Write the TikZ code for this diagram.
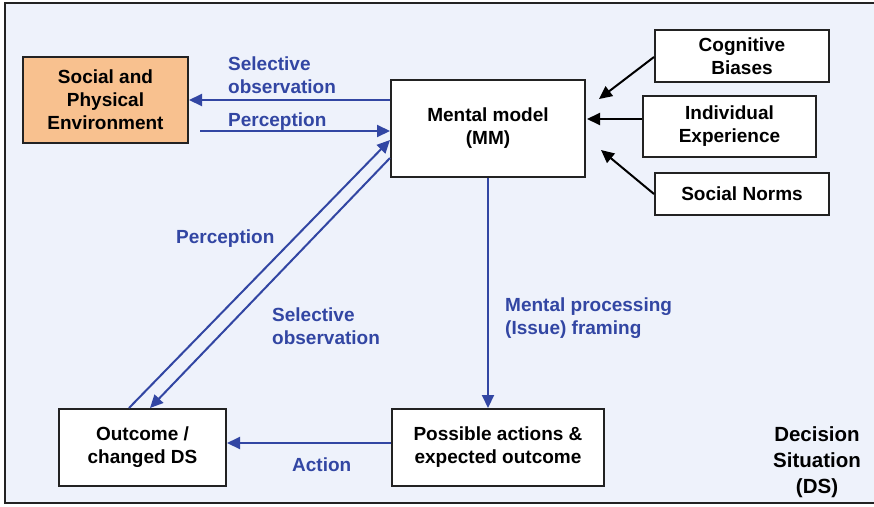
\documentclass[tikz,border=0pt]{standalone}
\usepackage{fontspec}
\setmainfont{Liberation Sans}
\usetikzlibrary{arrows.meta}
\definecolor{panel}{HTML}{EEF2FB}
\definecolor{flow}{HTML}{3246A3}
\definecolor{envfill}{HTML}{F8C18F}
\definecolor{edge}{HTML}{222222}
\begin{document}
\begin{tikzpicture}[x=1pt,y=-1pt,
  box/.style={draw=edge,line width=2pt,fill=white,align=center,inner sep=0pt,
    font=\fontsize{19}{23}\selectfont\bfseries,text=black},
  lbl/.style={align=left,inner sep=0pt,text=flow,
    font=\fontsize{19}{23}\selectfont\bfseries},
  flowarrow/.style={draw=flow,line width=2pt,-{Triangle[length=13pt,width=12pt]}},
  inarrow/.style={draw=black,line width=2pt,-{Triangle[length=13pt,width=12pt]}}]
\useasboundingbox (0,0) rectangle (874,506);
\fill[white] (0,0) rectangle (874,506);
% outer panel of the decision situation
\draw[edge,line width=1.6pt,fill=panel] (5,3) rectangle (890,503);

% boxes
\node[box,fill=envfill,minimum width=165pt,minimum height=86pt] (env) at (105.5,100)
  {Social and\\Physical\\Environment};
\node[box,minimum width=194pt,minimum height=97pt] (mm) at (488,128.5)
  {Mental model\\(MM)};
\node[box,minimum width=174pt,minimum height=52pt] (cog) at (742,56)
  {Cognitive\\Biases};
\node[box,minimum width=173pt,minimum height=61pt] (ind) at (729.5,126.5)
  {Individual\\Experience};
\node[box,minimum width=174pt,minimum height=42pt] (norms) at (742,194)
  {Social Norms};
\node[box,minimum width=212pt,minimum height=77pt] (poss) at (498,447.5)
  {Possible actions \&\\expected outcome};
\node[box,minimum width=167pt,minimum height=77pt] (out) at (142.5,447.5)
  {Outcome /\\changed DS};

% caption of the panel
\node[align=center,inner sep=0pt,font=\fontsize{20.5}{26}\selectfont\bfseries] (ds) at (817,462)
  {Decision\\Situation\\(DS)};

% flows between environment and mental model
\coordinate (pstart) at ([xshift=11pt,yshift=-31pt]env.east);
\draw[flowarrow] ([yshift=28.5pt]mm.west) -- (env.east);
\draw[flowarrow] (pstart) -- ([yshift=-2.5pt]mm.west);
\node[lbl,anchor=west] (l1) at (228,75.5) {Selective\\observation};
\node[lbl,anchor=west] (l2) at (228,121.5) {Perception};

% flows between outcome and mental model
\draw[flowarrow] ([xshift=-13.5pt]out.north) -- ([yshift=-11.5pt]mm.west);
\draw[flowarrow] ([yshift=-29.5pt]mm.west) -- ([xshift=7.5pt]out.north);
\node[lbl,anchor=west] (l3) at (176,238.5) {Perception};
\node[lbl,anchor=west] (l4) at (272,326) {Selective\\observation};

% mental processing and action
\draw[flowarrow] (mm.south) -- ([xshift=-10pt]poss.north);
\node[lbl,anchor=west] (l5) at (505,318) {Mental processing\\(Issue) framing};
\draw[flowarrow] ([yshift=4.5pt]poss.west) -- ([yshift=4.5pt]out.east);
\node[lbl,anchor=west] (l6) at (292,464.5) {Action};

% influences on the mental model
\draw[inarrow] ([yshift=-1pt]cog.west) -- ([xshift=13pt,yshift=29.5pt]mm.east);
\draw[inarrow] ([yshift=7.5pt]ind.west) -- ([xshift=1pt,yshift=9.5pt]mm.east);
\draw[inarrow] (norms.west) -- ([xshift=15pt,yshift=-21.5pt]mm.east);
\end{tikzpicture}
\end{document}
